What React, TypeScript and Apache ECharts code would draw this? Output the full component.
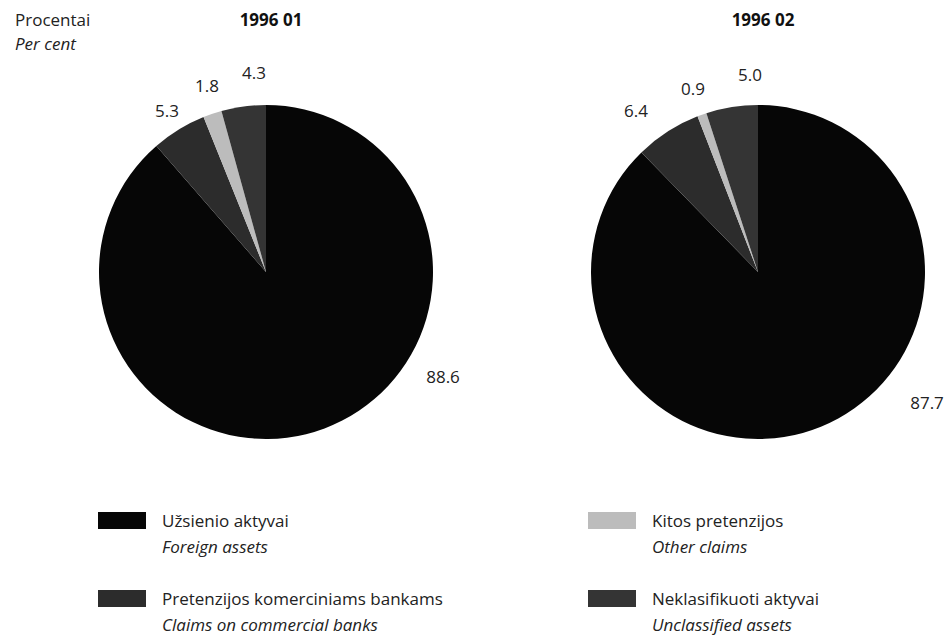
import React, { useEffect, useRef } from "react";
import * as echarts from "echarts";

const categories = [
  "Užsienio aktyvai",
  "Pretenzijos komerciniams bankams",
  "Kitos pretenzijos",
  "Neklasifikuoti aktyvai",
];
const categoriesEn = [
  "Foreign assets",
  "Claims on commercial banks",
  "Other claims",
  "Unclassified assets",
];
const periods = ["1996 01", "1996 02"];
const values199601 = [88.6, 5.3, 1.8, 4.3];
const values199602 = [87.7, 6.4, 0.9, 5.0];

const colors = ["#060606", "#2c2c2c", "#bcbcbc", "#343434"];
const labelPos199601 = [
  [443, 376],
  [167, 110],
  [207, 85],
  [254, 72],
];
const labelPos199602 = [
  [927, 402],
  [636, 110],
  [693, 88],
  [750, 74],
];
const pieCenters = [
  [266, 272],
  [758, 272],
];
const legendPos = [
  [98, 512],
  [98, 590],
  [588, 512],
  [588, 590],
];

const FONT = "'Open Sans', sans-serif";

export default function App() {
  const ref = useRef<HTMLDivElement>(null);
  useEffect(() => {
    if (!ref.current) return;
    const chart = echarts.init(ref.current, undefined, { renderer: "svg" });
    const mkSeries = (vals: number[], center: number[], pos: number[][]) => ({
      type: "pie",
      center,
      radius: 167,
      startAngle: 90,
      clockwise: true,
      silent: true,
      data: vals.map((v, i) => ({
        name: categories[i],
        value: v,
        itemStyle: { color: colors[i] },
      })),
      label: {
        show: true,
        position: "outside",
        formatter: (p: any) => Number(p.value).toFixed(1),
        fontFamily: FONT,
        fontSize: 17,
        color: "#222",
      },
      labelLine: { show: false },
      labelLayout: (p: any) => ({
        x: pos[p.dataIndex][0],
        y: pos[p.dataIndex][1],
        align: "center",
        verticalAlign: "middle",
      }),
      itemStyle: { borderWidth: 0 },
      emphasis: { disabled: true },
    });
    const legends = categories.map((c, i) => ({
      data: [c],
      left: legendPos[i][0],
      top: legendPos[i][1],
      itemWidth: 48,
      itemHeight: 17,
      icon: "rect",
      selectedMode: false,
      padding: 0,
      formatter: (name: string) =>
        `{a|${name}}\n{b|${categoriesEn[categories.indexOf(name)]}}`,
      textStyle: {
        padding: [26, 0, 0, 11],
        rich: {
          a: { fontFamily: FONT, fontSize: 17, color: "#222", lineHeight: 26 },
          b: {
            fontFamily: FONT,
            fontSize: 17,
            fontStyle: "italic",
            color: "#222",
            lineHeight: 26,
          },
        },
      },
    }));
    chart.setOption({
      animation: false,
      backgroundColor: "#ffffff",
      color: colors,
      title: [
        {
          text: "Procentai",
          left: 10,
          top: 6,
          textStyle: { fontFamily: FONT, fontSize: 17, fontWeight: "normal", color: "#222" },
        },
        {
          text: "Per cent",
          left: 10,
          top: 30,
          textStyle: {
            fontFamily: FONT,
            fontSize: 17,
            fontStyle: "italic",
            fontWeight: "normal",
            color: "#222",
          },
        },
        ...periods.map((p, i) => ({
          text: p,
          left: pieCenters[i][0],
          textAlign: "center",
          top: 6,
          textStyle: { fontFamily: FONT, fontSize: 17, fontWeight: "bold", color: "#111" },
        })),
      ],
      legend: legends,
      series: [
        mkSeries(values199601, pieCenters[0], labelPos199601),
        mkSeries(values199602, pieCenters[1], labelPos199602),
      ],
    });
    return () => chart.dispose();
  }, []);
  return (
    <div
      ref={ref}
      style={{ position: "absolute", left: 0, top: 0, width: 950, height: 639 }}
    />
  );
}
